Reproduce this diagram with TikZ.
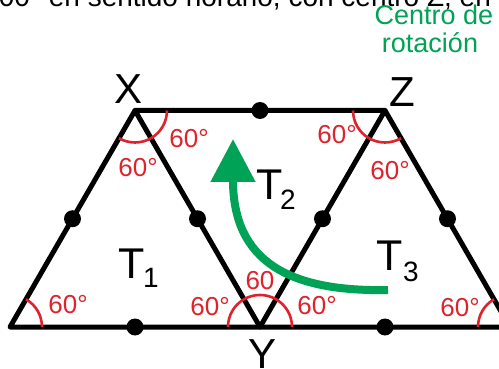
\documentclass[tikz,border=0pt]{standalone}
\usepackage{fontspec}
\setmainfont{Liberation Sans}
\usetikzlibrary{arrows.meta,calc}
\definecolor{angred}{RGB}{222,35,45}
\definecolor{rotgreen}{RGB}{0,163,85}
\begin{document}
\begin{tikzpicture}[x=1pt,y=1pt,
  edge/.style={line width=5pt, line join=round, line cap=round},
  mid/.style={circle, fill=black, minimum size=17pt, inner sep=0pt},
  ang/.style={angred, line width=2.6pt},
  anglab/.style={text=angred, font=\fontsize{26}{26}\selectfont, inner sep=0pt},
  vlab/.style={font=\fontsize{42}{42}\selectfont, inner sep=0pt},
  tlab/.style={font=\fontsize{43}{43}\selectfont, inner sep=0pt},
  sublab/.style={font=\fontsize{28}{28}\selectfont, inner sep=0pt},
  greentxt/.style={text=rotgreen, font=\fontsize{27}{27}\selectfont, inner sep=0pt, anchor=base},
  rotarrow/.style={rotgreen, line width=8pt, -{Triangle[length=43pt,width=43pt]}}]
\useasboundingbox (0,0) rectangle (499,-369);
\clip (0,0) rectangle (499,-369);
\fill[white] (0,0) rectangle (499,-369);

% top (cut) text
\node[anchor=base west, font=\fontsize{28}{28}\selectfont, inner sep=0pt] (title) at (-17,-7) {300° en sentido horario, con centro Z, en};

% vertices
\coordinate (L) at (10,-327);
\coordinate (Y) at (260,-327);
\coordinate (R) at (510,-327);
\coordinate (X) at (135,-110.5);
\coordinate (Z) at (385,-110.5);

% edges
\draw[edge] (L) -- (X) -- (Z) -- (R) -- cycle;
\draw[edge] (X) -- (Y) -- (Z);

% midpoints
\node[mid] (m1) at ($(L)!0.5!(X)$) {};
\node[mid] (m2) at ($(X)!0.5!(Y)$) {};
\node[mid] (m3) at ($(X)!0.5!(Z)$) {};
\node[mid] (m4) at ($(Z)!0.5!(Y)$) {};
\node[mid] (m5) at ($(Z)!0.5!(R)$) {};
\node[mid] (m6) at ($(L)!0.5!(Y)$) {};
\node[mid] (m7) at ($(Y)!0.5!(R)$) {};

% angle arcs
\draw[ang] (L) ++(0:32pt) arc[start angle=0, end angle=60, radius=32pt];
\draw[ang] (X) ++(-60:32pt) arc[start angle=-60, end angle=0, radius=32pt];
\draw[ang] (X) ++(-120:32pt) arc[start angle=-120, end angle=-60, radius=32pt];
\draw[ang] (Z) ++(180:32pt) arc[start angle=180, end angle=240, radius=32pt];
\draw[ang] (Z) ++(240:32pt) arc[start angle=240, end angle=300, radius=32pt];
\draw[ang] (Y) ++(0:32pt) arc[start angle=0, end angle=180, radius=32pt];
\draw[ang] (R) ++(120:32pt) arc[start angle=120, end angle=180, radius=32pt];

% angle labels
\node[anglab] (aXr) at (189,-139) {60°};
\node[anglab] (aXb) at (138,-168) {60°};
\node[anglab] (aZl) at (337,-135) {60°};
\node[anglab] (aZb) at (390,-171) {60°};
\node[anglab] (aL) at (68,-305) {60°};
\node[anglab] (aYl) at (210,-307) {60°};
\node[anglab] (aYt) at (260,-281) {60};
\node[anglab] (aYr) at (317,-306) {60°};
\node[anglab] (aR) at (460,-308) {60°};

% vertex labels
\node[vlab] (lX) at (129,-89) {X};
\node[vlab] (lZ) at (402,-92) {Z};
\node[vlab] (lY) at (263,-354) {Y};

% triangle labels
\node[tlab] (t1) at (132,-264) {T};
\node[sublab] (s1) at (151,-278) {1};
\node[tlab] (t2) at (270,-185) {T};
\node[sublab] (s2) at (288,-200) {2};
\node[tlab] (t3) at (390,-256) {T};
\node[sublab] (s3) at (411,-272) {3};

% centre of rotation text
\node[greentxt] (c1) at (434,-25) {Centro de};
\node[greentxt] (c2) at (430,-53) {rotación};

% rotation arrow
\coordinate (as) at (388,-290);
\coordinate (at) at (233,-139);
\draw[rotarrow] (as) .. controls (290,-292) and (233,-262) .. (at);
\end{tikzpicture}
\end{document}
